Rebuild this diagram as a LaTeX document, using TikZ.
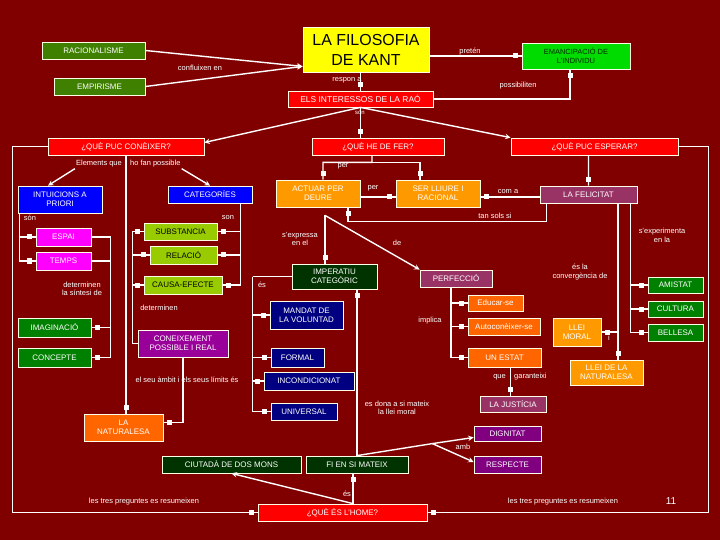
\documentclass[tikz,border=0pt]{standalone}
\usepackage{fontspec}
\setmainfont{Liberation Sans}
\usetikzlibrary{decorations.markings}

\definecolor{fons}{RGB}{128,0,0}
\definecolor{oliva}{RGB}{64,128,0}
\definecolor{groc}{RGB}{255,255,0}
\definecolor{verdclar}{RGB}{0,220,0}
\definecolor{vermell}{RGB}{255,0,0}
\definecolor{blau}{RGB}{0,0,255}
\definecolor{rosa}{RGB}{255,0,255}
\definecolor{llima}{RGB}{153,204,0}
\definecolor{verd}{RGB}{0,128,0}
\definecolor{lila}{RGB}{153,0,153}
\definecolor{porpra}{RGB}{128,0,128}
\definecolor{taronja}{RGB}{255,153,0}
\definecolor{malva}{RGB}{153,51,102}
\definecolor{carbassa}{RGB}{255,102,0}
\definecolor{verdfosc}{RGB}{0,51,0}
\definecolor{mari}{RGB}{0,0,128}

\begin{document}
\begin{tikzpicture}[x=1bp, y=-1bp, >=stealth, font=\fontsize{8}{9}\selectfont]
    \tikzset{
      bx/.style={draw=white!90!yellow, line width=0.8bp, text=white,
                 align=center, inner sep=1bp},
      lb/.style={text=white, font=\fontsize{7.5}{8.5}\selectfont, align=center, inner sep=1bp},
      ln/.style={draw=white, line width=1.4bp},
      sq/.style={postaction={decorate, decoration={markings,
        mark=at position 1 with {\fill[white] (-9bp,-2.5bp) rectangle (-4bp,2.5bp);}}}},
    }
    \fill[fons] (0,0) rectangle (720,540);
    \useasboundingbox (0,0) rectangle (720,540);

    % capçalera
    \node[bx, fill=groc, text=black, minimum width=126bp, minimum height=45bp,
          font=\fontsize{16}{20}\selectfont] (kant) at (366,49.5) {LA FILOSOFIA\\DE KANT};
    \node[bx, fill=oliva, minimum width=103bp, minimum height=17bp] (rac) at (93.5,50.5) {RACIONALISME};
    \node[bx, fill=oliva, minimum width=91bp, minimum height=17bp] (emp) at (99.5,86.5) {EMPIRISME};
    \node[bx, fill=verdclar, text=black!85!green, minimum width=108bp, minimum height=26bp,
          font=\fontsize{7.5}{9}\selectfont] (eman) at (576,56) {EMANCIPACIÓ DE\\L'INDIVIDU};
    \node[bx, fill=vermell, minimum width=145bp, minimum height=16bp,
          font=\fontsize{8.5}{9}\selectfont] (ier) at (360.5,99) {ELS INTERESSOS DE LA RAÓ};

    % preguntes
    \node[bx, fill=vermell, minimum width=156bp, minimum height=17bp] (q1) at (126,146.5) {¿QUÈ PUC CONÈIXER?};
    \node[bx, fill=vermell, minimum width=132bp, minimum height=17bp] (q2) at (378,146.5) {¿QUÈ HE DE FER?};
    \node[bx, fill=vermell, minimum width=167bp, minimum height=17bp] (q3) at (594.5,146.5) {¿QUÈ PUC ESPERAR?};
    \node[bx, fill=vermell, minimum width=169bp, minimum height=17bp] (home) at (342.5,512.5) {¿QUÈ ÉS L'HOME?};

    % conèixer
    \node[bx, fill=blau, minimum width=84bp, minimum height=27bp] (intu) at (60,199.5) {INTUICIONS A\\PRIORI};
    \node[bx, fill=blau, minimum width=84bp, minimum height=17bp] (cat) at (210,194.5) {CATEGORÍES};
    \node[bx, fill=rosa, minimum width=55bp, minimum height=18bp] (espai) at (63.5,237) {ESPAI};
    \node[bx, fill=rosa, minimum width=55bp, minimum height=18bp] (temps) at (63.5,261) {TEMPS};
    \node[bx, fill=llima, text=black, minimum width=73bp, minimum height=17bp] (subs) at (180.5,231.5) {SUBSTANCIA};
    \node[bx, fill=llima, text=black, minimum width=67bp, minimum height=18bp] (rel) at (183.5,255) {RELACIÓ};
    \node[bx, fill=llima, text=black, minimum width=78bp, minimum height=18bp] (causa) at (183,285) {CAUSA-EFECTE};
    \node[bx, fill=verd, minimum width=73bp, minimum height=19bp] (imag) at (54.5,327.5) {IMAGINACIÓ};
    \node[bx, fill=verd, minimum width=73bp, minimum height=19bp] (conc) at (54.5,357.5) {CONCEPTE};
    \node[bx, fill=lila, minimum width=90bp, minimum height=27bp] (conei) at (183,343.5) {CONEIXEMENT\\POSSIBLE I REAL};
    \node[bx, fill=carbassa, minimum width=79bp, minimum height=27bp] (nat) at (123.5,427.5) {LA\\NATURALESA};

    % fer
    \node[bx, fill=taronja, minimum width=84bp, minimum height=27bp] (actuar) at (318,193.5) {ACTUAR PER\\DEURE};
    \node[bx, fill=taronja, minimum width=84bp, minimum height=27bp] (ser) at (438,193.5) {SER LLIURE I\\RACIONAL};
    \node[bx, fill=verdfosc, minimum width=85bp, minimum height=25bp] (imper) at (334.5,276.5) {IMPERATIU\\CATEGÒRIC};
    \node[bx, fill=mari, minimum width=73bp, minimum height=28bp] (mand) at (306.5,315) {MANDAT DE\\LA VOLUNTAD};
    \node[bx, fill=mari, minimum width=53bp, minimum height=19bp] (formal) at (297.5,357.5) {FORMAL};
    \node[bx, fill=mari, minimum width=90bp, minimum height=18bp] (incond) at (309,381) {INCONDICIONAT};
    \node[bx, fill=mari, minimum width=66bp, minimum height=17bp] (univ) at (304,411.5) {UNIVERSAL};
    \node[bx, fill=verdfosc, minimum width=139bp, minimum height=17bp] (ciut) at (231.5,464.5) {CIUTADÀ DE DOS MONS};
    \node[bx, fill=verdfosc, minimum width=102bp, minimum height=17bp] (fi) at (357,464.5) {FI EN SI MATEIX};
    \node[bx, fill=porpra, minimum width=67bp, minimum height=15bp] (dign) at (507.5,433.5) {DIGNITAT};
    \node[bx, fill=porpra, minimum width=67bp, minimum height=17bp] (resp) at (507.5,464.5) {RESPECTE};

    % esperar
    \node[bx, fill=malva, minimum width=97bp, minimum height=17bp] (feli) at (588.5,194.5) {LA FELICITAT};
    \node[bx, fill=malva, minimum width=72bp, minimum height=17bp] (perf) at (456,278.5) {PERFECCIÓ};
    \node[bx, fill=carbassa, minimum width=55bp, minimum height=16bp] (educ) at (495.5,303) {Educar-se};
    \node[bx, fill=carbassa, minimum width=72bp, minimum height=17bp] (auto) at (504,326.5) {Autoconèixer-se};
    \node[bx, fill=carbassa, minimum width=73bp, minimum height=19bp] (estat) at (504.5,357.5) {UN ESTAT};
    \node[bx, fill=malva, minimum width=66bp, minimum height=16bp] (just) at (513,404) {LA JUSTÍCIA};
    \node[bx, fill=taronja, minimum width=48bp, minimum height=28bp] (lleim) at (577,332) {LLEI\\MORAL};
    \node[bx, fill=taronja, minimum width=73bp, minimum height=25bp] (llein) at (606.5,372.5) {LLEI DE LA\\NATURALESA};
    \node[bx, fill=verd, minimum width=55bp, minimum height=16bp] (amis) at (675.5,285) {AMISTAT};
    \node[bx, fill=verd, minimum width=55bp, minimum height=16bp] (cult) at (675.5,309) {CULTURA};
    \node[bx, fill=verd, minimum width=55bp, minimum height=17bp] (bell) at (675.5,332.5) {BELLESA};

    % etiquetes
    \node[lb] (lconf) at (200,68) {confluixen en};
    \node[lb] (lresp) at (347,80) {respon a};
    \node[lb] (lpret) at (470,52) {pretén};
    \node[lb] (lposb) at (518,86) {possibiliten};
    \node[lb, font=\fontsize{6}{7}\selectfont] (lson0) at (360,112) {són};
    \node[lb, anchor=east] (lelem) at (123,164) {Elements que};
    \node[lb, anchor=west] (lposs) at (129,164) {ho fan possible};
    \node[lb] (lson1) at (30,218) {són};
    \node[lb] (lson2) at (228,218) {son};
    \node[lb] (lsint) at (82,289) {determinen\\la síntesi de};
    \node[lb] (ldet) at (159,308) {determinen};
    \node[lb] (lambit) at (187,380) {el seu àmbit i els seus límits és};
    \node[lb] (lper1) at (343,166) {per};
    \node[lb] (lper2) at (373,188) {per};
    \node[lb] (lcom) at (508,192) {com a};
    \node[lb] (ltan) at (495,216) {tan sols si};
    \node[lb] (lexp) at (662,235.5) {s'experimenta\\en la};
    \node[lb] (lexr) at (300,239) {s'expressa\\en el};
    \node[lb] (lde) at (397,243) {de};
    \node[lb] (les1) at (262,285) {és};
    \node[lb] (lconv) at (580,272) {és la\\convergència de};
    \node[lb] (limp) at (430,321) {implica};
    \node[lb] (li) at (609,338) {i};
    \node[lb, anchor=east] (lque) at (507,377) {que};
    \node[lb, anchor=west] (lgar) at (513,377) {garanteixi};
    \node[lb] (ldona) at (397,408) {es dona a si mateix\\la llei moral};
    \node[lb] (lamb) at (463,447) {amb};
    \node[lb] (les2) at (347,494) {és};
    \node[lb] (ltres1) at (144,502) {les tres preguntes es resumeixen};
    \node[lb] (ltres2) at (563,502) {les tres preguntes es resumeixen};
    \node[lb, font=\fontsize{10}{12}\selectfont] (lnum) at (671,501) {11};

    % connectors de dalt
    \coordinate (conf) at ([yshift=6bp]kant.south west);
    \draw[ln,->] (rac.east) -- (conf);
    \draw[ln,->] (emp.east) -- (conf);
    \draw[ln,sq] (kant.east |- eman.west) -- (eman.west);
    \draw[ln,sq] (ier.north |- kant.south) -- (ier.north);
    \draw[ln,sq] (ier.east) -| ([xshift=-6bp]eman.south);
    \draw[ln,->] (ier.south) -- ([yshift=4bp]q1.east);
    \draw[ln,sq] (ier.south) -- (ier.south |- q2.north);
    \draw[ln,->] (ier.south) -- (q3.north west);
    \draw[ln,sq] (q1.west) -- ++(-35,0) |- (home.west);
    \draw[ln,sq] (q3.east) -- ++(30,0) |- (home.east);

    % conèixer
    \draw[ln,sq] (q1.south) -- (q1.south |- nat.north);
    \draw[ln,->] (lelem.south west) -- ([xshift=-12bp]intu.north);
    \draw[ln,->] (lposs.south east) -- (cat.north);
    \draw[ln,sq] ([xshift=2bp]intu.south west) |- (espai.west);
    \draw[ln,sq] ([xshift=2bp]intu.south west) |- (temps.west);
    \coordinate (sint) at ([xshift=19bp]espai.east);
    \draw[ln] (temps.east) -- (temps.east -| sint);
    \draw[ln,sq] (espai.east) -- (sint) |- (imag.east);
    \draw[ln,sq] (sint) |- (conc.east);
    \coordinate (cdn) at ([xshift=-12bp]cat.south east);
    \draw[ln,sq] (cdn) |- (subs.east);
    \draw[ln,sq] (cdn) |- (rel.east);
    \draw[ln,sq] (cdn) |- (causa.east);
    \coordinate (detc) at ([xshift=-5bp]conei.west);
    \draw[ln,sq] (conei.west) -- (detc) |- (subs.west);
    \draw[ln,sq] (detc) |- (rel.west);
    \draw[ln,sq] (detc) |- (causa.west);
    \draw[ln,sq] (conei.south) |- ([yshift=5bp]nat.east);

    % fer
    \coordinate (per) at ([shift={(-6,7)}]q2.south);
    \draw[ln,sq] ([xshift=-6bp]q2.south) -- (per) -| ([xshift=5bp]actuar.north);
    \draw[ln,sq] (per) -| ([xshift=-18bp]ser.north);
    \draw[ln,sq] ([yshift=-3.5bp]actuar.east) -- ([yshift=-3.5bp]ser.west);
    \draw[ln,sq] ([yshift=-2.5bp]feli.west) -- ([yshift=-2.5bp]feli.west -| ser.east);
    \draw[ln,sq] ([xshift=7bp]feli.south west) -- ++(0,18) -| ([xshift=30bp]actuar.south);
    \coordinate (expr) at ([shift={(7,8)}]actuar.south);
    \draw[ln,sq] (expr) -- (expr |- imper.north);
    \draw[ln,->] (expr) -- (perf.north west);
    \coordinate (esimp) at ([xshift=-39bp]imper.west);
    \draw[ln] (imper.west) -- (esimp);
    \draw[ln,sq] (esimp) |- (mand.west);
    \draw[ln,sq] (esimp) |- (formal.west);
    \draw[ln,sq] (esimp) |- (incond.west);
    \draw[ln,sq] (esimp) |- (univ.west);
    \draw[ln,sq] (fi.north) -- (fi.north |- imper.south);

    % esperar
    \draw[ln,sq] ([xshift=-6bp]q3.south) -- (feli.north);
    \coordinate (conv) at ([xshift=29.5bp]feli.south);
    \draw[ln,sq] (conv) -- (conv |- llein.north);
    \draw[ln,sq] (lleim.east -| conv) -- (lleim.east);
    \coordinate (expe) at ([xshift=42bp]feli.south);
    \draw[ln,sq] (expe) |- (amis.west);
    \draw[ln,sq] (expe) |- (cult.west);
    \draw[ln,sq] (expe) |- (bell.west);
    \draw[ln,sq] ([xshift=-5bp]perf.south) |- (educ.west);
    \draw[ln,sq] ([xshift=-5bp]perf.south) |- (auto.west);
    \draw[ln,sq] ([xshift=-5bp]perf.south) |- (estat.west);
    \draw[ln,sq] ([xshift=6bp]estat.south) -- ([xshift=6bp]estat.south |- just.north);

    % l'home
    \coordinate (amb) at ([shift={(24,-12)}]fi.north east);
    \draw[ln] (fi.north) -- (amb);
    \draw[ln,->] (amb) -- ([yshift=-4bp]dign.west);
    \draw[ln,->] (amb) -- ([yshift=2.5bp]resp.west);
    \coordinate (hup) at ([xshift=10.5bp]home.north);
    \draw[ln,->] (hup) -- (ciut.south);
    \draw[ln,sq] (hup) -- (hup |- fi.south);
\end{tikzpicture}
\end{document}
